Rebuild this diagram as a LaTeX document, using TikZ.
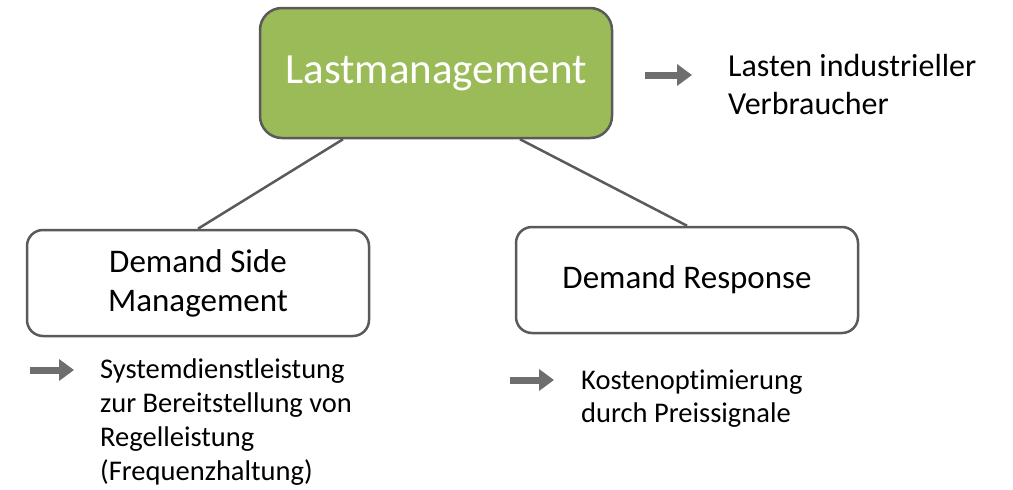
\documentclass[tikz,border=0pt]{standalone}
\usepackage{fontspec}
\setmainfont{Carlito}[Ligatures=NoCommon]
\usetikzlibrary{arrows.meta}

\definecolor{lastgreen}{HTML}{9BBB59}
\definecolor{boxgray}{HTML}{5A5A5A}
\definecolor{arrowgray}{HTML}{6E6E6E}

\tikzset{
  mainbox/.style={draw=boxgray, line width=2.5pt, fill=lastgreen, rounded corners=22pt,
    minimum width=352pt, minimum height=130pt, text=white, font=\fontsize{43}{50}\selectfont},
  subbox/.style={draw=boxgray, line width=2.5pt, fill=white, rounded corners=16pt,
    minimum width=342pt, minimum height=106pt, align=center, font=\fontsize{33}{39}\selectfont},
  hinttext/.style={anchor=north west, align=left, inner sep=0pt, font=\fontsize{28.5}{34}\selectfont},
  hintarrow/.style={draw=arrowgray, line width=7pt, -{Triangle[length=15pt,width=21pt]}},
  connect/.style={draw=boxgray, line width=2.5pt}
}

\begin{document}
\begin{tikzpicture}[x=1pt, y=-1pt]
\useasboundingbox (0,0) rectangle (1013,490);

% boxes
\node[mainbox] (last) at (436,73) {Lastmanagement};
\node[subbox] (dsm) at (198,283) {Demand Side\\Management};
\node[subbox] (dr) at (687,280) {Demand Response};

\draw[connect] ([xshift=-93pt]last.south) -- (dsm.north);
\draw[connect] ([xshift=84pt]last.south) -- (dr.north);

% notes
\node[hinttext, font=\fontsize{32}{38}\selectfont] (lasten) at (728,54) {Lasten industrieller\\Verbraucher};
\node[hinttext] (sdl) at (100,359) {Systemdienstleistung\\zur Bereitstellung von\\Regelleistung\\(Frequenzhaltung)};
\node[hinttext, font=\fontsize{28.5}{33}\selectfont] (kosten) at (581,370) {Kostenoptimierung\\durch Preissignale};

\coordinate (a1s) at (645,75);
\coordinate (a1e) at (692,75);
\coordinate (a2s) at (30,370);
\coordinate (a2e) at (74,370);
\coordinate (a3s) at (510,380);
\coordinate (a3e) at (554,380);
\draw[hintarrow] (a1s) -- (a1e);
\draw[hintarrow] (a2s) -- (a2e);
\draw[hintarrow] (a3s) -- (a3e);
\end{tikzpicture}
\end{document}
